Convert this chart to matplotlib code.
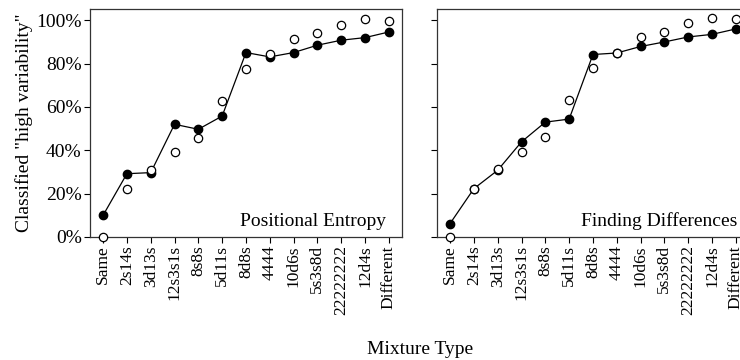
import matplotlib.pyplot as plt
import numpy as np

plt.rcParams['font.family'] = ['Liberation Serif', 'DejaVu Serif']

# mixture types along the x axis
mixtures = ["Same", "2s14s", "3d13s", "12s3s1s", "8s8s", "5d11s", "8d8s",
            "4444", "10d6s", "5s3s8d", "22222222", "12d4s", "Different"]

# percent classified "high variability" (filled = line series, open = circles)
entropy_filled = [10.0, 29.2, 29.7, 52.0, 49.7, 55.8, 85.1, 83.1, 85.1, 88.5, 90.8, 92.0, 94.6]
entropy_open = [0.0, 22.2, 31.1, 39.2, 45.7, 62.8, 77.7, 84.5, 91.5, 94.2, 98.0, 100.5, 99.7]
diff_filled = [6.2, 22.3, 30.8, 43.9, 53.0, 54.4, 84.2, 84.9, 87.9, 90.0, 92.3, 93.5, 96.0]
diff_open = [0.0, 22.3, 31.5, 39.4, 46.1, 63.2, 78.1, 84.9, 92.3, 94.7, 98.8, 100.9, 100.5]

yticks = [0, 20, 40, 60, 80, 100]
ytick_labels = ["0%", "20%", "40%", "60%", "80%", "100%"]

fig = plt.figure(figsize=(7.4, 3.6), dpi=100)
ax1 = fig.add_axes([0.1216, 0.3417, 0.4216, 0.6333])
ax2 = fig.add_axes([0.5905, 0.3417, 0.4216, 0.6333])

x = np.arange(len(mixtures))
panels = [(ax1, entropy_filled, entropy_open, "Positional Entropy", 0.948),
          (ax2, diff_filled, diff_open, "Finding Differences", 0.963)]

for ax, filled, opened, name, tx in panels:
    ax.plot(x, filled, color='black', linewidth=0.9, marker='o', markersize=6,
            markerfacecolor='black', markeredgecolor='black', zorder=3, clip_on=False)
    ax.plot(x, opened, linestyle='none', marker='o', markersize=6,
            markerfacecolor='white', markeredgecolor='black', markeredgewidth=0.9,
            zorder=4, clip_on=False)
    ax.set_xlim(-0.55, 12.55)
    ax.set_ylim(0, 105.2)
    ax.set_xticks(x)
    ax.set_xticklabels(mixtures, rotation=90, fontsize=12.5)
    ax.set_yticks(yticks)
    ax.tick_params(direction='out', length=4, width=0.8, pad=2)
    for s in ax.spines.values():
        s.set_linewidth(0.9)
        s.set_color('#333333')
    ax.text(tx, 0.048, name, transform=ax.transAxes, ha='right', va='baseline',
            fontsize=14)

ax1.set_yticklabels(ytick_labels, fontsize=14)
ax2.set_yticklabels([])
ax1.set_ylabel('Classified "high variability"', fontsize=14, labelpad=2)
fig.text(0.568, 0.03, "Mixture Type", ha='center', va='center', fontsize=14)

fig.savefig("out.png", dpi=100)
